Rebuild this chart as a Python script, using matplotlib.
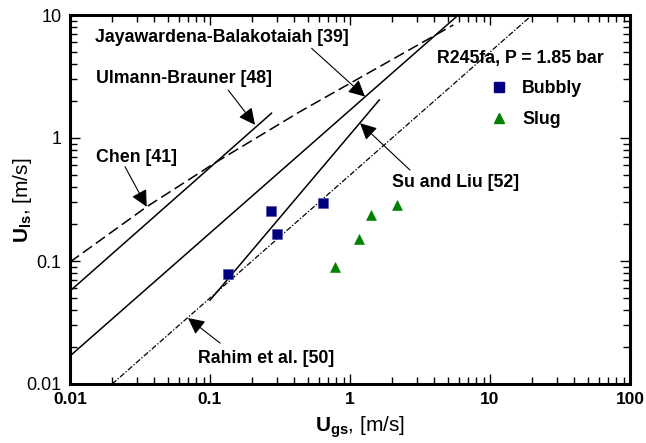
import matplotlib
matplotlib.use("Agg")
import matplotlib.pyplot as plt
from matplotlib.lines import Line2D
import numpy as np

plt.rcParams['font.family'] = ['Liberation Sans', 'DejaVu Sans']
plt.rcParams['mathtext.fontset'] = 'custom'
plt.rcParams['mathtext.rm'] = 'Liberation Sans'
plt.rcParams['mathtext.bf'] = 'Liberation Sans:bold'
plt.rcParams['lines.scale_dashes'] = False

# Measured flow-pattern data, R245fa at 1.85 bar
bubbly_ugs = [0.134, 0.272, 0.301, 0.641]
bubbly_uls = [0.079, 0.257, 0.166, 0.294]
slug_ugs = [0.78, 1.16, 1.41, 2.17]
slug_uls = [0.089, 0.151, 0.237, 0.285]

# Bubbly/slug transition lines from the literature
ulmann_ugs = [0.01, 0.275]
ulmann_uls = [0.057, 1.59]
jaya_ugs = [0.01, 5.94]
jaya_uls = [0.0169, 10.0]
chen_ugs = [0.01, 0.0353, 0.1117, 0.44, 5.47]
chen_uls = [0.098, 0.276, 0.641, 1.64, 8.3]
suliu_ugs = [0.1, 1.62]
suliu_uls = [0.048, 2.04]
rahim_ugs = [0.02, 20.0]
rahim_uls = [0.01, 10.0]

x_ticks = [0.01, 0.1, 1, 10, 100]
x_labels = ['0.01', '0.1', '1', '10', '100']
y_ticks = [0.01, 0.1, 1, 10]
y_labels = ['0.01', '0.1', '1', '10']

fig = plt.figure(figsize=(6.46, 4.43), dpi=100)
ax = fig.add_axes([70 / 646, 1 - 384 / 443, 560 / 646, 369 / 443])
ax.set_xscale('log')
ax.set_yscale('log')
ax.set_xlim(0.01, 100)
ax.set_ylim(0.01, 10)

lw = 1.1
ax.plot(ulmann_ugs, ulmann_uls, color='k', lw=lw)
ax.plot(jaya_ugs, jaya_uls, color='k', lw=lw)
ax.plot(suliu_ugs, suliu_uls, color='k', lw=lw)
ax.plot(chen_ugs, chen_uls, color='k', lw=lw, dashes=(8, 3.5))
ax.plot(rahim_ugs, rahim_uls, color='k', lw=0.9, dashes=(4, 1.3, 1.0, 1.3))

ax.plot(bubbly_ugs, bubbly_uls, 's', color='#000080', ms=6.5, mec='#4a4aa0', mew=0.4, ls='none')
ax.plot(slug_ugs, slug_uls, '^', color='#008000', ms=7, mec='#008000', mew=0.4, ls='none')

tfont = dict(fontsize=12.8, fontweight='bold', va='center', ha='left')
arrow = dict(arrowstyle='-|>', color='k', lw=0.8, mutation_scale=25,
             shrinkA=0, shrinkB=0)

ax.text(0.0151, 6.62, 'Jayawardena-Balakotaiah [39]', **tfont)
ax.text(0.0153, 3.02, 'Ulmann-Brauner [48]', **tfont)
ax.text(0.0153, 0.70, 'Chen [41]', **tfont)
ax.text(4.18, 4.47, 'R245fa, P = 1.85 bar', **tfont)
ax.text(2.0, 0.438, 'Su and Liu [52]', **tfont)
ax.text(0.082, 0.01626, 'Rahim et al. [50]', **tfont)

ax.annotate('', xy=(1.28, 2.17), xytext=(0.532, 5.36), arrowprops=arrow)
ax.annotate('', xy=(0.2096, 1.28), xytext=(0.135, 2.45), arrowprops=arrow)
ax.annotate('', xy=(0.0353, 0.276), xytext=(0.0247, 0.585), arrowprops=arrow)
ax.annotate('', xy=(1.18, 1.32), xytext=(2.68, 0.549), arrowprops=arrow)
ax.annotate('', xy=(0.0696, 0.0344), xytext=(0.118, 0.0215), arrowprops=arrow)

handles = [
    Line2D([], [], marker='s', color='#000080', ms=6.5, ls='none'),
    Line2D([], [], marker='^', color='#008000', ms=7, ls='none'),
]
leg = ax.legend(handles, ['Bubbly', 'Slug'], loc='upper left',
                bbox_to_anchor=((490 - 70) / 560, (384 - 80) / 369), frameon=False,
                handlelength=1.0, handletextpad=0.8, labelspacing=0.8,
                borderpad=0, borderaxespad=0,
                prop=dict(size=12.8, weight='bold'))

ax.set_xticks(x_ticks)
ax.set_xticklabels(x_labels, fontsize=12.5, fontweight='bold')
ax.set_yticks(y_ticks)
ax.set_yticklabels(y_labels, fontsize=13)
ax.tick_params(which='both', direction='in', top=True, right=True, width=1.0)
ax.tick_params(which='major', length=7, pad=6)
ax.tick_params(which='minor', length=5)
for s in ax.spines.values():
    s.set_linewidth(2.2)

ax.set_xlabel(r'$\mathbf{U_{gs}}$, [m/s]', fontsize=15)
ax.xaxis.set_label_coords((360 - 70) / 560, (384 - 414) / 369)
ax.set_ylabel(r'$\mathbf{U_{ls}}$, [m/s]', fontsize=15)
ax.yaxis.set_label_coords((34 - 70) / 560, (384 - 200) / 369)

fig.savefig('out.png', dpi=100)
